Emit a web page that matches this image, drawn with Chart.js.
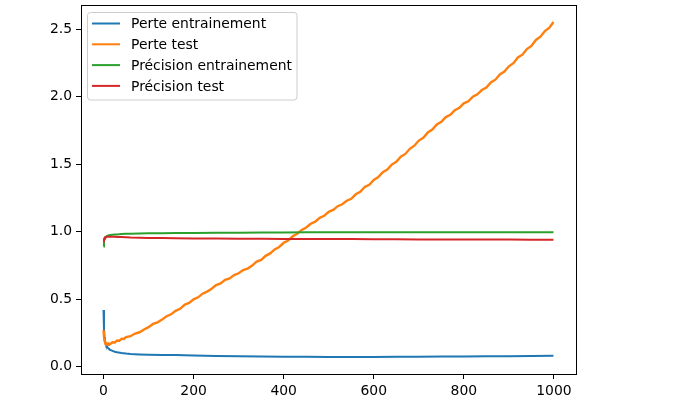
<!DOCTYPE html>
<html>
<head>
<meta charset="utf-8">
<script src="https://cdn.jsdelivr.net/npm/chart.js@4/dist/chart.umd.min.js"></script>
<style>
  html, body { margin: 0; padding: 0; background: #fff; }
  canvas { display: block; }
</style>
</head>
<body>
<canvas id="chart" width="675" height="404"></canvas>
<script>
// epochs sampled densely at the start where curves move fast
const epochsSmooth = [0, 1, 2, 3, 4, 5, 6, 8, 10, 12, 15, 20, 25, 30, 40, 50, 60, 80, 100, 130, 160, 200,
  250, 300, 350, 400, 450, 500, 550, 600, 650, 700, 750, 800, 850, 900, 950, 999];

const epochsDense = [0, 1, 2, 3, 4, 5, 6, 8, 10, 12, 15, 20, 25, 30, 35, 40, 45, 50,
  60, 70, 80, 90, 100, 110, 120, 130, 140, 150, 160, 170, 180, 190, 200, 210, 220, 230, 240, 250,
  260, 270, 280, 290, 300, 310, 320, 330, 340, 350, 360, 370, 380, 390, 400, 410, 420, 430, 440, 450,
  460, 470, 480, 490, 500, 510, 520, 530, 540, 550, 560, 570, 580, 590, 600, 610, 620, 630, 640, 650,
  660, 670, 680, 690, 700, 710, 720, 730, 740, 750, 760, 770, 780, 790, 800, 810, 820, 830, 840, 850,
  860, 870, 880, 890, 900, 910, 920, 930, 940, 950, 960, 970, 980, 990, 999];

const labels = ['Perte entrainement', 'Perte test', 'Précision entrainement', 'Précision test'];
const colors = ['#1f77b4', '#ff7f0e', '#2ca02c', '#d62728'];

// train loss (on epochsSmooth)
const trainLoss = [0.42, 0.28, 0.22, 0.19, 0.175, 0.165, 0.157, 0.146, 0.138, 0.132, 0.125, 0.117, 0.111, 0.107,
  0.101, 0.097, 0.094, 0.091, 0.089, 0.087, 0.086, 0.083, 0.080, 0.077, 0.075, 0.074, 0.073, 0.071, 0.071,
  0.072, 0.073, 0.074, 0.075, 0.076, 0.077, 0.078, 0.079, 0.081];

// test loss (on epochsDense)
const testLoss = [0.27, 0.225, 0.196, 0.186, 0.174, 0.175, 0.166, 0.170, 0.163, 0.171, 0.168, 0.181, 0.180, 0.194,
  0.192, 0.207, 0.205, 0.219,
  0.226, 0.246, 0.255, 0.276, 0.293, 0.317, 0.329, 0.349, 0.374, 0.388, 0.414, 0.429, 0.459, 0.472, 0.499,
  0.514, 0.541, 0.556, 0.577, 0.604, 0.617, 0.643, 0.654, 0.679, 0.692, 0.716, 0.727, 0.749, 0.779, 0.791,
  0.821, 0.839, 0.869, 0.887, 0.918, 0.935, 0.966, 0.984, 1.013, 1.031, 1.059, 1.074, 1.103, 1.118, 1.147,
  1.161, 1.189, 1.203, 1.229, 1.244, 1.277, 1.295, 1.331, 1.348, 1.384, 1.404, 1.441, 1.460, 1.497, 1.517,
  1.556, 1.576, 1.614, 1.637, 1.675, 1.696, 1.735, 1.757, 1.795, 1.814, 1.849, 1.866, 1.900, 1.917, 1.951,
  1.966, 2.000, 2.017, 2.049, 2.067, 2.106, 2.126, 2.165, 2.186, 2.225, 2.248, 2.290, 2.311, 2.353, 2.376,
  2.420, 2.444, 2.486, 2.511, 2.553];

// train accuracy (on epochsSmooth)
const trainAcc = [0.89, 0.93, 0.945, 0.953, 0.958, 0.962, 0.965, 0.968, 0.971, 0.973, 0.975, 0.977, 0.979, 0.980,
  0.982, 0.984, 0.985, 0.986, 0.988, 0.989, 0.990, 0.991, 0.992, 0.993, 0.994, 0.994, 0.995, 0.995, 0.995,
  0.995, 0.996, 0.996, 0.996, 0.996, 0.996, 0.996, 0.996, 0.996];

// test accuracy (on epochsSmooth)
const testAcc = [0.93, 0.945, 0.952, 0.956, 0.958, 0.960, 0.961, 0.962, 0.963, 0.963, 0.963, 0.962, 0.962, 0.961,
  0.960, 0.959, 0.957, 0.956, 0.954, 0.953, 0.951, 0.950, 0.949, 0.948, 0.947, 0.946, 0.946, 0.945, 0.945,
  0.944, 0.944, 0.943, 0.943, 0.942, 0.942, 0.942, 0.941, 0.941];

const xTicks = [0, 200, 400, 600, 800, 1000];
const yTicks = [0.0, 0.5, 1.0, 1.5, 2.0, 2.5];

const toPoints = (xs, ys) => xs.map((x, i) => ({ x: x, y: ys[i] }));

const series = [
  toPoints(epochsSmooth, trainLoss),
  toPoints(epochsDense, testLoss),
  toPoints(epochsSmooth, trainAcc),
  toPoints(epochsSmooth, testAcc)
];

const FONT = '"DejaVu Sans", sans-serif';

// frame on all four sides + matplotlib-like legend box
const framePlugin = {
  id: 'frame',
  afterDatasetsDraw(chart) {
    const { ctx, chartArea: a } = chart;
    ctx.save();
    ctx.strokeStyle = '#000';
    ctx.lineWidth = 1;
    ctx.strokeRect(Math.round(a.left) + 0.5, Math.round(a.top) + 0.5,
      Math.round(a.right - a.left), Math.round(a.bottom - a.top));
    ctx.restore();
  },
  afterDraw(chart) {
    const ctx = chart.ctx;
    const bx = 87.5, by = 12.5, bw = 209.5, bh = 87.5, r = 3;
    ctx.save();
    ctx.beginPath();
    ctx.moveTo(bx + r, by);
    ctx.arcTo(bx + bw, by, bx + bw, by + bh, r);
    ctx.arcTo(bx + bw, by + bh, bx, by + bh, r);
    ctx.arcTo(bx, by + bh, bx, by, r);
    ctx.arcTo(bx, by, bx + bw, by, r);
    ctx.closePath();
    ctx.fillStyle = 'rgba(255,255,255,0.8)';
    ctx.fill();
    ctx.strokeStyle = '#cccccc';
    ctx.lineWidth = 1;
    ctx.stroke();

    ctx.font = '13.9px ' + FONT;
    ctx.textBaseline = 'middle';
    ctx.fillStyle = '#000';
    labels.forEach((lab, i) => {
      const y = 23.5 + i * 20.8;
      ctx.beginPath();
      ctx.strokeStyle = colors[i];
      ctx.lineWidth = 2;
      ctx.moveTo(92, y);
      ctx.lineTo(120, y);
      ctx.stroke();
      ctx.fillText(lab, 131, y + 1);
    });
    ctx.restore();
  }
};

const axisStyle = {
  grid: { display: true, drawOnChartArea: false, drawTicks: true, tickLength: 5, tickColor: '#000', tickWidth: 1 },
  border: { display: true, color: '#000', width: 1 },
  ticks: { color: '#000', font: { family: FONT, size: 13.9 }, padding: 4, autoSkip: false, maxRotation: 0 }
};

new Chart(document.getElementById('chart'), {
  type: 'line',
  data: {
    datasets: series.map((pts, i) => ({
      label: labels[i],
      data: pts,
      borderColor: colors[i],
      backgroundColor: colors[i],
      borderWidth: i === 1 ? 2.4 : 2,
      pointRadius: 0,
      tension: 0,
      fill: false,
      order: 4 - i
    }))
  },
  options: {
    responsive: false,
    animation: false,
    events: [],
    layout: { padding: { left: 0, right: 99, top: 5, bottom: 0 } },
    plugins: { legend: { display: false }, tooltip: { enabled: false } },
    scales: {
      x: {
        type: 'linear',
        min: -50,
        max: 1049,
        afterBuildTicks: (s) => { s.ticks = xTicks.map(v => ({ value: v })); },
        afterFit: (s) => { s.height = 30; s.paddingLeft = 0; s.paddingRight = 0; },
        ...axisStyle,
        ticks: { ...axisStyle.ticks, callback: (v) => String(v) }
      },
      y: {
        type: 'linear',
        min: -0.054,
        max: 2.679,
        afterBuildTicks: (s) => { s.ticks = yTicks.map(v => ({ value: v })); },
        afterFit: (s) => { s.width = 81; s.paddingTop = 0; s.paddingBottom = 0; },
        ...axisStyle,
        ticks: { ...axisStyle.ticks, callback: (v) => Number(v).toFixed(1) }
      }
    }
  },
  plugins: [framePlugin]
});
</script>
</body>
</html>
